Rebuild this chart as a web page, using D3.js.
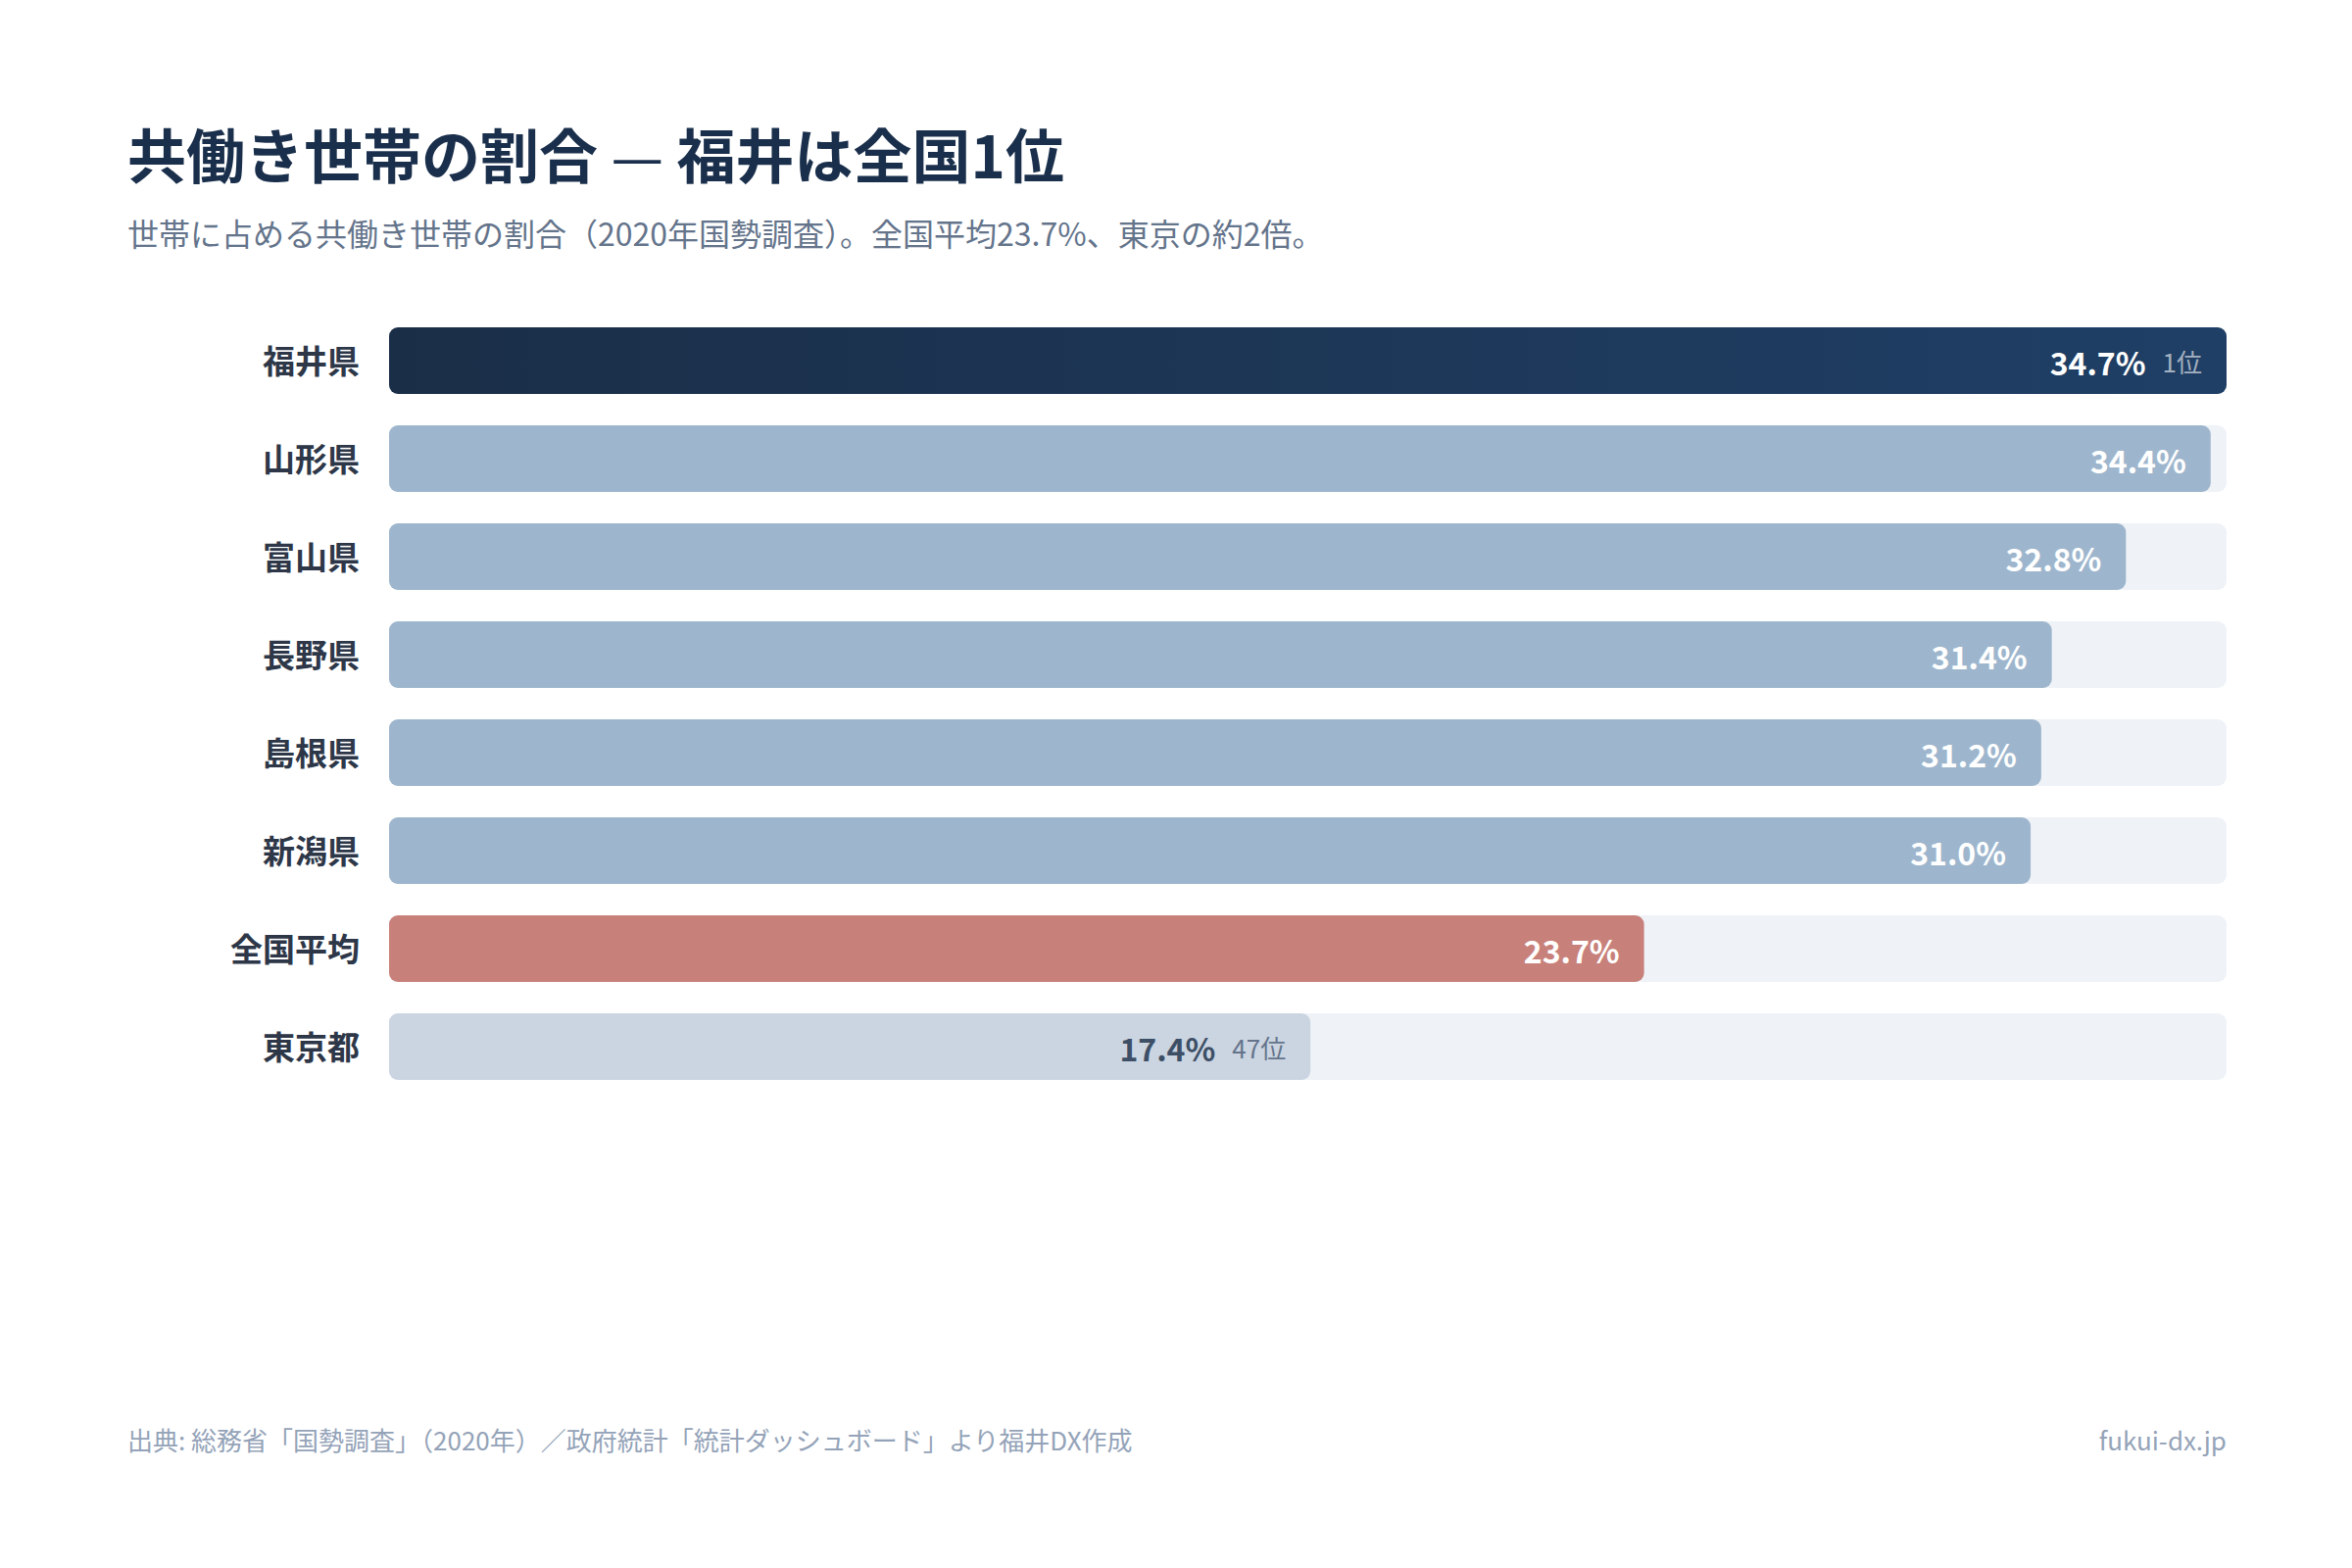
<!DOCTYPE html>
<html>
<head>
<meta charset="utf-8">
<script src="https://cdn.jsdelivr.net/npm/d3@7/dist/d3.min.js"></script>
<style>
  html, body { margin: 0; padding: 0; background: #ffffff; }
  svg { display: block; font-family: "Noto Sans CJK JP", "Noto Sans", sans-serif; }
</style>
</head>
<body>
<svg id="chart" width="2400" height="1600"></svg>
<script>
// ---- data ----
const categories = ["福井県", "山形県", "富山県", "長野県", "島根県", "新潟県", "全国平均", "東京都"];
const values = [34.7, 34.4, 32.8, 31.4, 31.2, 31.0, 23.7, 17.4];
const valueLabels = ["34.7%", "34.4%", "32.8%", "31.4%", "31.2%", "31.0%", "23.7%", "17.4%"];
const rankLabels = ["1位", "", "", "", "", "", "", "47位"];
const kinds = ["top", "pref", "pref", "pref", "pref", "pref", "avg", "low"];

const titleParts = ["共働き世帯の割合", " — ", "福井は全国1位"];
const subtitleText = "世帯に占める共働き世帯の割合（2020年国勢調査）。全国平均23.7%、東京の約2倍。";
const sourceText = "出典: 総務省「国勢調査」（2020年）／政府統計「統計ダッシュボード」より福井DX作成";
const siteText = "fukui-dx.jp";

// ---- layout ----
const svg = d3.select("#chart");
const left = 397, right = 2272;
const top0 = 334, step = 100, barH = 68;

const x = d3.scaleLinear().domain([0, d3.max(values)]).range([left, right]);
const y = d3.scaleBand().domain(categories)
  .range([top0 - (step - barH) / 2, top0 - (step - barH) / 2 + step * categories.length])
  .paddingInner((step - barH) / step).paddingOuter((step - barH) / step / 2);

const defs = svg.append("defs");
const grad = defs.append("linearGradient").attr("id", "topGrad")
  .attr("x1", "0%").attr("x2", "100%").attr("y1", "0%").attr("y2", "0%");
grad.append("stop").attr("offset", "0%").attr("stop-color", "#1a2e47");
grad.append("stop").attr("offset", "100%").attr("stop-color", "#1f3f66");

const fillFor = k => k === "top" ? "url(#topGrad)" : k === "avg" ? "#c8817a" : k === "low" ? "#cbd5e1" : "#9eb6cd";
const textFor = k => k === "low" ? "#3d4f66" : "#ffffff";

// title
const title = svg.append("text").attr("x", 130).attr("y", 182)
  .attr("font-size", 60).attr("font-weight", 700).attr("fill", "#1a2f4b")
  .attr("xml:space", "preserve").style("white-space", "pre");
title.selectAll("tspan").data(titleParts).join("tspan")
  .attr("font-weight", (d, i) => i === 1 ? 400 : 700)
  .text(d => d);
svg.append("text").attr("x", 130).attr("y", 251)
  .attr("font-size", 32).attr("font-weight", 400).attr("fill", "#64748b")
  .text(subtitleText);

const rows = svg.append("g").selectAll("g").data(categories).join("g")
  .attr("transform", d => `translate(0,${y(d)})`);

// track
rows.append("rect").attr("x", left).attr("y", 0)
  .attr("width", right - left).attr("height", y.bandwidth())
  .attr("rx", 9).attr("fill", "#eff3f8");

// bar
rows.append("rect").attr("x", left).attr("y", 0)
  .attr("width", (d, i) => x(values[i]) - left).attr("height", y.bandwidth())
  .attr("rx", 9).attr("fill", (d, i) => fillFor(kinds[i]));

// category labels
rows.append("text").attr("x", left - 30).attr("y", y.bandwidth() / 2)
  .attr("dy", "0.4em").attr("text-anchor", "end")
  .attr("font-size", 33).attr("font-weight", 700).attr("fill", "#2d3748")
  .text(d => d);

// value labels
rows.each(function (d, i) {
  const g = d3.select(this);
  const endX = x(values[i]) - 25;
  const cy = y.bandwidth() / 2 + 3;
  let valueRight = endX;
  if (rankLabels[i]) {
    const r = g.append("text").attr("x", endX).attr("y", cy).attr("dy", "0.36em")
      .attr("text-anchor", "end").attr("font-size", 26).attr("font-weight", 400)
      .attr("fill", kinds[i] === "low" ? "#64748b" : "rgba(255,255,255,0.6)")
      .text(rankLabels[i]);
    valueRight = endX - r.node().getComputedTextLength() - 17;
  }
  g.append("text").attr("x", valueRight).attr("y", cy).attr("dy", "0.36em")
    .attr("text-anchor", "end").attr("font-size", 32).attr("font-weight", 700)
    .attr("fill", textFor(kinds[i]))
    .text(valueLabels[i]);
});

// footer
svg.append("text").attr("x", 130).attr("y", 1480)
  .attr("font-size", 26).attr("fill", "#94a3b8").text(sourceText);
svg.append("text").attr("x", right).attr("y", 1480).attr("text-anchor", "end")
  .attr("font-size", 26).attr("fill", "#94a3b8").text(siteText);
</script>
</body>
</html>
